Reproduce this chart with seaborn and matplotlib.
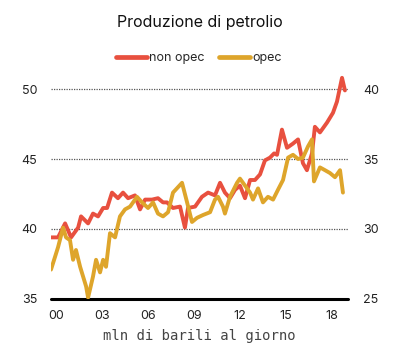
import matplotlib
matplotlib.use("Agg")
import matplotlib.pyplot as plt
import seaborn as sns
import pandas as pd
from matplotlib.lines import Line2D

# ---- data ----
title = "Produzione di petrolio"
xlabel = "mln di barili al giorno"
series_names = ["non opec", "opec"]
xtick_years = [2000, 2003, 2006, 2009, 2012, 2015, 2018]
xtick_labels = ["00", "03", "06", "09", "12", "15", "18"]
left_ticks = [35, 40, 45, 50]
right_ticks = [25, 30, 35, 40]

nonopec_t = [1999.67, 2000.13, 2000.59, 2000.98, 2001.44, 2001.63, 2002.09, 2002.41,
             2002.74, 2003.07, 2003.33, 2003.65, 2004.04, 2004.37, 2004.70, 2005.15,
             2005.48, 2005.81, 2006.26, 2006.65, 2006.98, 2007.24, 2007.63, 2008.09,
             2008.41, 2008.61, 2009.07, 2009.52, 2009.92, 2010.37, 2010.70, 2011.02,
             2011.35, 2011.68, 2012.00, 2012.33, 2012.66, 2012.98, 2013.31, 2013.63,
             2013.96, 2014.23, 2014.42, 2014.74, 2015.07, 2015.46, 2015.79, 2016.11,
             2016.37, 2016.70, 2016.89, 2017.22, 2017.68, 2018.07, 2018.33, 2018.66,
             2018.85]
nonopec_v = [39.4, 39.4, 40.4, 39.4, 40.1, 40.9, 40.4, 41.1,
             40.9, 41.5, 41.5, 42.6, 42.2, 42.6, 42.2, 42.4,
             41.4, 42.1, 42.1, 42.2, 41.9, 41.9, 41.5, 41.6,
             40.1, 41.5, 41.6, 42.3, 42.6, 42.4, 43.3, 42.6,
             42.2, 42.8, 43.1, 42.2, 43.5, 43.5, 43.9, 44.9,
             45.1, 45.4, 45.3, 47.1, 45.8, 46.1, 46.4, 44.7,
             44.2, 45.4, 47.3, 46.9, 47.6, 48.3, 49.1, 50.8,
             49.9]

opec_t = [1999.67, 1999.93, 2000.13, 2000.46, 2000.65, 2000.91, 2001.11, 2001.30,
          2001.57, 2001.96, 2002.09, 2002.41, 2002.61, 2002.87, 2003.07, 2003.26,
          2003.52, 2003.85, 2004.17, 2004.50, 2004.83, 2005.28, 2005.61, 2006.00,
          2006.33, 2006.65, 2006.98, 2007.31, 2007.63, 2008.22, 2008.55, 2008.87,
          2009.20, 2009.59, 2010.05, 2010.37, 2010.57, 2010.89, 2011.02, 2011.35,
          2011.81, 2012.00, 2012.33, 2012.66, 2012.85, 2013.18, 2013.50, 2013.83,
          2014.16, 2014.48, 2014.81, 2015.14, 2015.46, 2015.79, 2016.11, 2016.44,
          2016.70, 2016.83, 2017.22, 2017.55, 2017.87, 2018.20, 2018.53, 2018.72]
opec_v = [27.1, 28.0, 28.7, 30.1, 29.4, 29.2, 27.8, 28.5,
          27.3, 25.9, 25.1, 26.6, 27.8, 26.9, 27.8, 27.3,
          29.7, 29.4, 30.9, 31.4, 31.6, 32.3, 31.9, 31.5,
          31.9, 31.1, 30.9, 31.2, 32.6, 33.3, 31.9, 30.5,
          30.8, 31.0, 31.2, 32.1, 32.3, 31.6, 31.1, 32.3,
          33.3, 33.6, 33.1, 32.6, 32.1, 32.9, 31.9, 32.3,
          32.1, 32.8, 33.5, 35.1, 35.3, 35.0, 35.1, 35.9,
          36.4, 33.4, 34.4, 34.2, 34.0, 33.7, 34.2, 32.6]

# ---- style ----
sns.set_style("white")
plt.rcParams["font.family"] = ["Inter", "DejaVu Sans"]

red = "#e8503f"
gold = "#dea52b"

fig = plt.figure(figsize=(4.0, 3.53), dpi=100)
ax = fig.add_axes([0.1275, 0.153, 0.7425, 0.6345])
ax2 = ax.twinx()

df1 = pd.DataFrame({"t": nonopec_t, "v": nonopec_v})
df2 = pd.DataFrame({"t": opec_t, "v": opec_v})
sns.lineplot(data=df1, x="t", y="v", ax=ax, color=red, lw=2.8, zorder=3)
sns.lineplot(data=df2, x="t", y="v", ax=ax2, color=gold, lw=2.8, zorder=3)

ax.set_xlim(1999.67, 2019.05)
ax.set_ylim(35, 51)
ax2.set_ylim(25, 41)
ax.set_yticks(left_ticks)
ax2.set_yticks(right_ticks)
ax.set_xticks(xtick_years)
ax.set_xticklabels(xtick_labels)

for a in (ax, ax2):
    for s in ["top", "left", "right", "bottom"]:
        a.spines[s].set_visible(False)
    a.tick_params(length=0, labelsize=9, colors="#222222")
    a.set_xlabel("")
    a.set_ylabel("")
ax.tick_params(axis="y", pad=10)
ax2.tick_params(axis="y", pad=11)
ax.tick_params(axis="x", pad=8)

for yv in [40, 45, 50]:
    ax.axhline(yv, color="#555555", lw=0.9, ls=(0, (1, 1)), zorder=1)
ax.axhline(35, color="black", lw=2.2, zorder=4, clip_on=False)

ax.set_xlabel(xlabel, family=["DejaVu Sans Mono"], fontsize=10, color="#444444", labelpad=5)

fig.text(0.5, 0.935, title, ha="center", va="center", fontsize=11.5, color="#111111")

handles = [Line2D([], [], color=red, lw=3.4), Line2D([], [], color=gold, lw=3.4)]
fig.legend(handles, series_names, loc="center", bbox_to_anchor=(0.497, 0.835), ncol=2,
           frameon=False, fontsize=9, handlelength=2.5, handletextpad=0.2,
           columnspacing=1.1)

fig.savefig("out.png", dpi=100)
